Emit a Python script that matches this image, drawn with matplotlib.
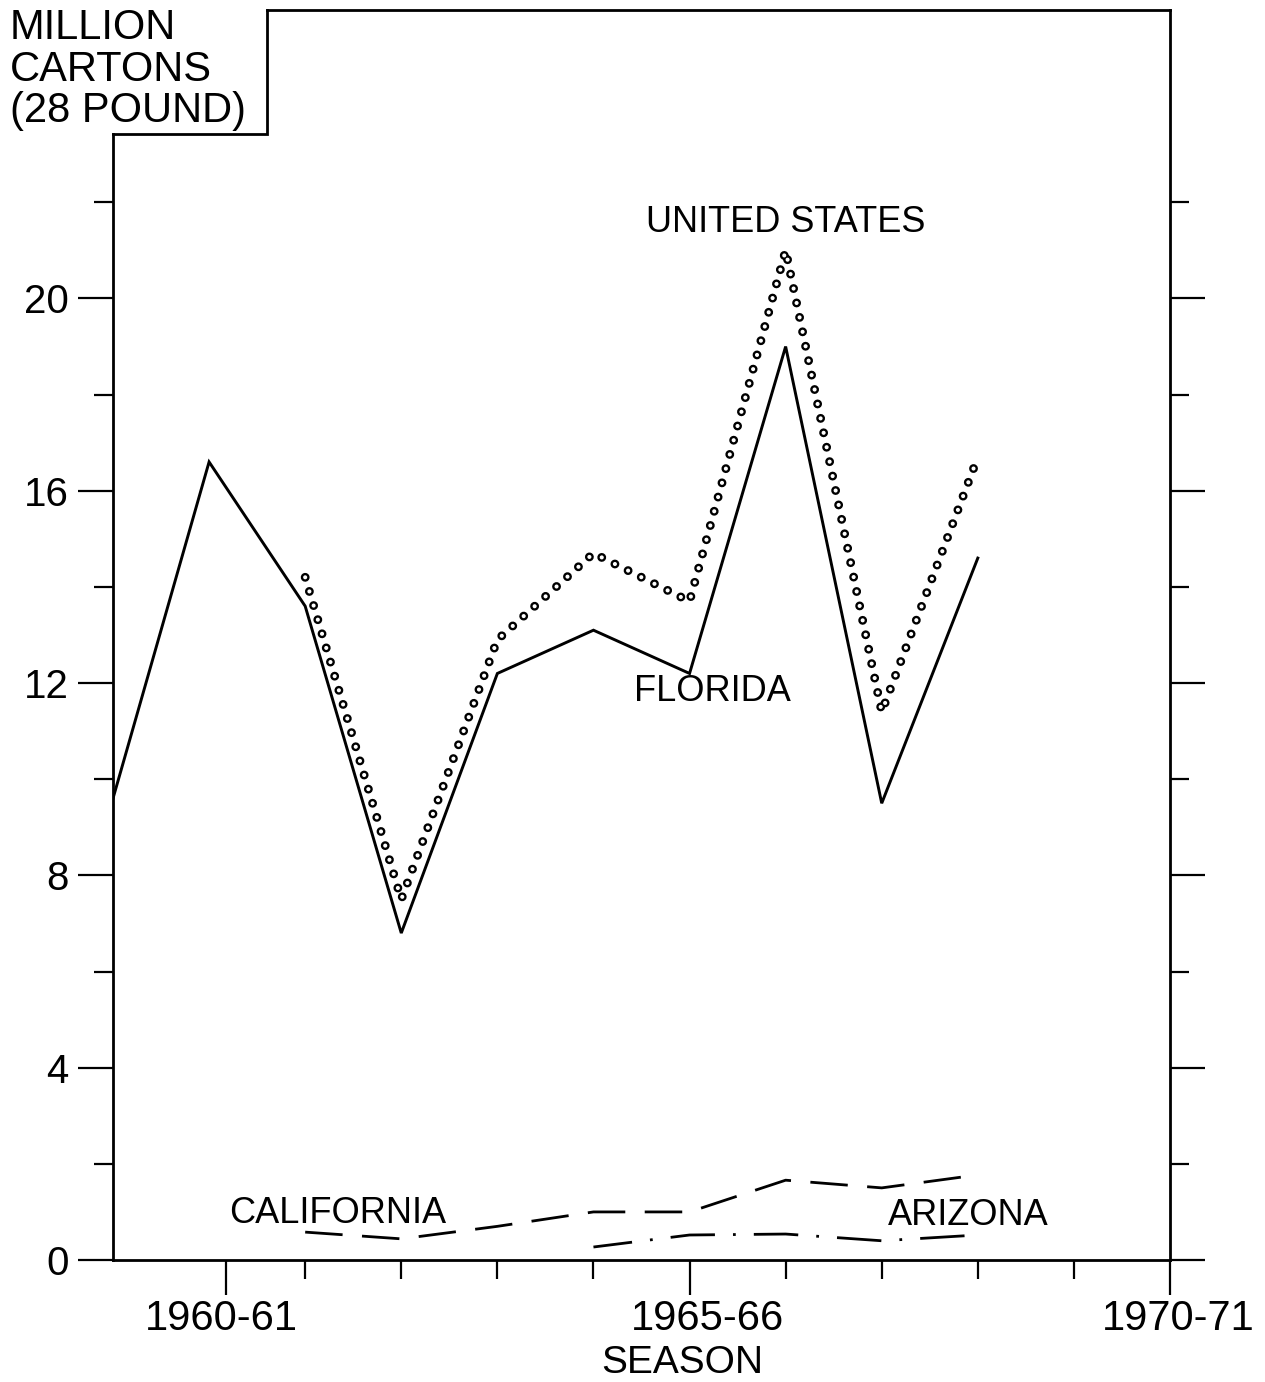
import matplotlib as mpl
mpl.use("Agg")
from matplotlib import pyplot as plt
from matplotlib.transforms import ScaledTranslation

mpl.rcParams['font.family'] = ['Liberation Sans', 'DejaVu Sans']
mpl.rcParams['lines.scale_dashes'] = False

# seasons: 1959 means the 1959-60 season
seasons = [1959, 1960, 1961, 1962, 1963, 1964, 1965, 1966, 1967, 1968]
florida = [9.6, 16.6, 13.6, 6.8, 12.2, 13.1, 12.2, 19.0, 9.5, 14.6]

us_seasons = [1961, 1962, 1963, 1964, 1965, 1966, 1967, 1968]
united_states = [14.2, 7.5, 12.9, 14.7, 13.7, 21.0, 11.4, 16.7]

ca_seasons = [1961, 1962, 1963, 1964, 1965, 1966, 1967, 1968]
california = [0.58, 0.44, 0.7, 1.0, 1.0, 1.66, 1.5, 1.77]

az_seasons = [1964, 1965, 1966, 1967, 1968]
arizona = [0.27, 0.52, 0.54, 0.4, 0.52]

season_ticks = [1960.18, 1965, 1970]
season_labels = ['1960-61', '1965-66', '1970-71']
minor_seasons = [1961, 1962, 1963, 1964, 1966, 1967, 1968, 1969]
y_major = [0, 4, 8, 12, 16, 20]
y_minor = [2, 6, 10, 14, 18, 22]

W, H = 1265, 1382
fig = plt.figure(figsize=(W / 100, H / 100), dpi=100)
ax = fig.add_axes([113 / W, 1 - 1260 / H, (1170 - 113) / W, (1260 - 10) / H])
ax.set_xlim(1959, 1970)
ax.set_ylim(0, 26)

ax.plot(seasons, florida, color='black', lw=2.1, solid_joinstyle='miter')
# ring-shaped dots: black dots with smaller white dots on top
ax.plot(us_seasons, united_states, color='black', lw=6.4,
        linestyle=(0, (0.01, 10.6)), dash_capstyle='round')
ax.plot(us_seasons, united_states, color='white', lw=3.0,
        linestyle=(0, (0.01, 10.6)), dash_capstyle='round')
ax.plot(ca_seasons, california, color='black', lw=2.0,
        linestyle=(0, (27, 14)))
ax.plot(az_seasons, arizona, color='black', lw=2.0,
        linestyle=(4, (32, 13, 2, 13)))

lab = dict(fontsize=26, color='black', ha='center', va='center')
ax.text(1966.0, 21.58, 'UNITED STATES', **lab)
ax.text(1965.24, 11.82, 'FLORIDA', **lab)
ax.text(1961.34, 0.96, 'CALIFORNIA', **lab)
ax.text(1967.9, 0.92, 'ARIZONA', **lab)

# ticks
ax.set_xticks(season_ticks)
ax.set_xticklabels(season_labels, fontsize=30)
ax.set_xticks(minor_seasons, minor=True)
ax.set_yticks(y_major)
ax.set_yticklabels([str(v) for v in y_major], fontsize=29)
ax.set_yticks(y_minor, minor=True)
ax.tick_params(which='major', direction='out', length=25, width=1.6,
               right=True, pad=3)
ax.tick_params(which='minor', direction='out', length=14, width=1.6,
               right=True)
ax.tick_params(axis='y', which='major', pad=7)
for lbl, dx in zip(ax.get_xticklabels(), [-5, 18, 8]):
    lbl.set_transform(lbl.get_transform() +
                      ScaledTranslation(dx / 100, 0, fig.dpi_scale_trans))

ax.set_xlabel('SEASON', fontsize=28)
ax.xaxis.label.set_va('baseline')
ax.xaxis.set_label_coords((682 - 113) / 1057, (1260 - 1373) / 1250)

for s in ax.spines.values():
    s.set_linewidth(2.0)

# notch in the top-left corner for the unit caption
notch_x = 1959 + (267 - 113) / 96.0
notch_y = (1260 - 135) / 48.05
ax.spines['left'].set_bounds(0, notch_y)
ax.spines['top'].set_bounds(notch_x, 1970)
ax.plot([1959, notch_x, notch_x], [notch_y, notch_y, 26], color='black',
        lw=2.0, clip_on=False, solid_joinstyle='miter')

fig.text(10 / W, 1 - 8 / H, 'MILLION\nCARTONS\n(28 POUND)', fontsize=30,
         ha='left', va='top', linespacing=1.05)

fig.savefig('out.png', dpi=100)
